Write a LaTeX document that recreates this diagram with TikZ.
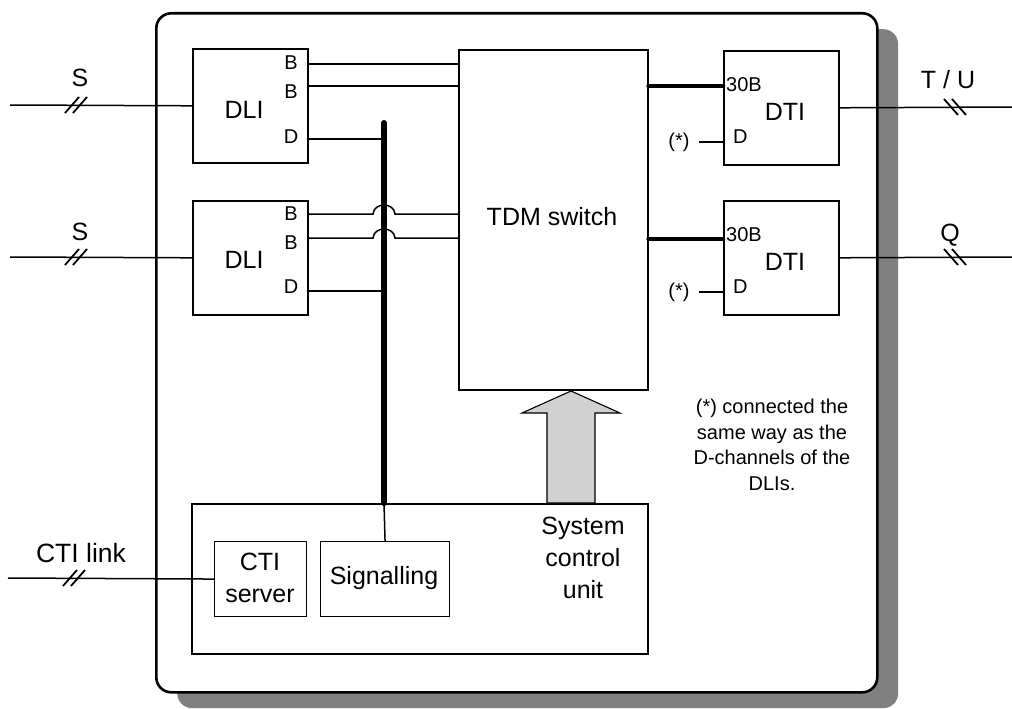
\documentclass[tikz,border=0pt]{standalone}
\usepackage{fontspec}
\setmainfont{Liberation Sans}
\usetikzlibrary{calc}
\definecolor{shadowfill}{gray}{0.5}
\definecolor{arrowfill}{gray}{0.82}
\begin{document}
\begin{tikzpicture}[x=1pt,y=-1pt,
  box/.style={draw, line width=1.6pt, inner sep=0pt, anchor=north west},
  thinbox/.style={draw, line width=1.1pt, inner sep=0pt, anchor=north west},
  wire/.style={line width=1.5pt},
  buswire/.style={line width=6pt, line cap=round},
  trunk/.style={line width=4.5pt, line cap=round},
  small/.style={font=\fontsize{20}{25}\selectfont, inner sep=0pt},
  big/.style={font=\fontsize{25}{32}\selectfont, inner sep=0pt, align=center},
  tick/.style={line width=1.8pt}]
\useasboundingbox (0,0) rectangle (1012,709);
% shadow and outer frame
\node[anchor=north west, fill=shadowfill, rounded corners=15pt, minimum width=721, minimum height=679, inner sep=0pt] (shadow) at (177,29) {};
\node[anchor=north west, draw, line width=2.6pt, fill=white, rounded corners=15pt, minimum width=721, minimum height=679, inner sep=0pt] (outer) at (155,12) {};
% boxes
\node[box, minimum width=115, minimum height=114] (dli1) at (192,48) {};
\node[box, minimum width=115, minimum height=114] (dli2) at (192,200) {};
\node[box, minimum width=189, minimum height=340] (tdm) at (458,49) {};
\node[box, minimum width=115, minimum height=114] (dti1) at (723,50) {};
\node[box, minimum width=115, minimum height=114] (dti2) at (723,200) {};
\node[box, minimum width=456, minimum height=150] (sys) at (191,503) {};
\node[thinbox, minimum width=92, minimum height=75] (cti) at (214,541) {};
\node[thinbox, minimum width=129, minimum height=75] (sig) at (320,541) {};
% labels in boxes
\node[big] (dli1l) at (244,110) {DLI};
\node[big] (dli2l) at (244,260) {DLI};
\node[small] (b11) at (291,63) {B};
\node[small] (b12) at (291,92) {B};
\node[small] (d1l) at (291,137) {D};
\node[small] (b21) at (291,214) {B};
\node[small] (b22) at (291,243) {B};
\node[small] (d2l) at (291,287) {D};
\node[big] (tdml) at (552,217) {TDM switch};
\node[big] (dti1l) at (785,112) {DTI};
\node[big] (dti2l) at (785,262) {DTI};
\node[small, anchor=west] (tb1) at (726,85) {30B};
\node[small, anchor=west] (tb2) at (726,235) {30B};
\node[small, anchor=west] (dd1l) at (733,137) {D};
\node[small, anchor=west] (dd2l) at (733,287) {D};
\node[small] (st1) at (679,142) {(*)};
\node[small] (st2) at (679,292) {(*)};
\node[big] (ctil) at (260,578) {CTI\\server};
\node[big] (sigl) at (384,578) {Signalling};
\node[big] (sysl) at (583,558) {System\\control\\unit};
\node[small, align=center, font=\fontsize{20}{25.5}\selectfont] (note) at (772,445) {(*) connected the\\same way as the\\D-channels of the\\DLIs.};
% external labels
\node[big] (sl1) at (80,78) {S};
\node[big] (sl2) at (80,232) {S};
\node[big, font=\fontsize{26.5}{32}\selectfont] (ctilink) at (81,553) {CTI link};
\node[big] (tul) at (948,80) {T / U};
\node[big] (ql) at (950,235) {Q};
% external lines
\coordinate (s1in) at (10,105);
\coordinate (s2in) at (10,257);
\coordinate (ctiin) at (8,578);
\coordinate (tuout) at (1012,107);
\coordinate (qout) at (1012,257);
\draw[wire] (s1in) -- (dli1.west);
\draw[wire] (s2in) -- (dli2.west);
\draw[wire] (ctiin) -- (cti.west);
\draw[wire] (dti1.east) -- (tuout);
\draw[wire] (dti2.east) -- (qout);
% ticks
\coordinate (k1) at (76,105);
\coordinate (k2) at (76,257);
\coordinate (k3) at (74,578);
\coordinate (k4) at (955,107);
\coordinate (k5) at (955,257);
\foreach \k in {k1,k2,k3}{
  \draw[tick] ($(\k)+(-11,8)$) -- ++(14,-16);
  \draw[tick] ($(\k)+(-3,8)$) -- ++(14,-16);
}
\foreach \k in {k4,k5}{
  \draw[tick] ($(\k)+(-11,-8)$) -- ++(14,16);
  \draw[tick] ($(\k)+(-3,-8)$) -- ++(14,16);
}
% DLI internal wires
\coordinate (bustop) at (384,123);
\coordinate (w11) at ($(dli1.north east)+(0,16)$);
\coordinate (w12) at ($(dli1.north east)+(0,38)$);
\coordinate (w13) at ($(dli1.north east)+(0,91)$);
\coordinate (w21) at ($(dli2.north east)+(0,14)$);
\coordinate (w22) at ($(dli2.north east)+(0,38)$);
\coordinate (w23) at ($(dli2.north east)+(0,91)$);
\draw[wire] (w11) -- (w11 -| tdm.west);
\draw[wire] (w12) -- (w12 -| tdm.west);
\draw[wire] (w13) -- (w13 -| bustop);
\draw[wire] (w23) -- (w23 -| bustop);
\draw[buswire] (bustop) -- (bustop |- sys.north);
\draw[wire] (bustop |- sys.north) -- (sig.north);
\foreach \w in {w21,w22}{
  \draw[wire] (\w) -- ($(\w -| bustop)+(-11,0)$)
    .. controls +(1,-12) and +(-1,-12) .. ($(\w -| bustop)+(11,0)$)
    -- (\w -| tdm.west);
}
% trunks
\coordinate (t1) at ($(dti1.north west)+(0,36)$);
\coordinate (t2) at ($(dti2.north west)+(0,39)$);
\draw[trunk] (t1 -| tdm.east) -- (t1);
\draw[trunk] (t2 -| tdm.east) -- (t2);
% DTI D wires
\coordinate (dw1) at ($(dti1.north west)+(0,92)$);
\coordinate (dw2) at ($(dti2.north west)+(0,92)$);
\draw[wire] ($(dw1)+(-24,0)$) -- (dw1);
\draw[wire] ($(dw2)+(-24,0)$) -- (dw2);
% control arrow
\draw[line width=1.1pt, fill=arrowfill, line join=miter]
  (571,391) -- (620,413) -- (595,413) -- (595,503) -- (547,503) -- (547,413) -- (522,413) -- cycle;
\end{tikzpicture}
\end{document}
